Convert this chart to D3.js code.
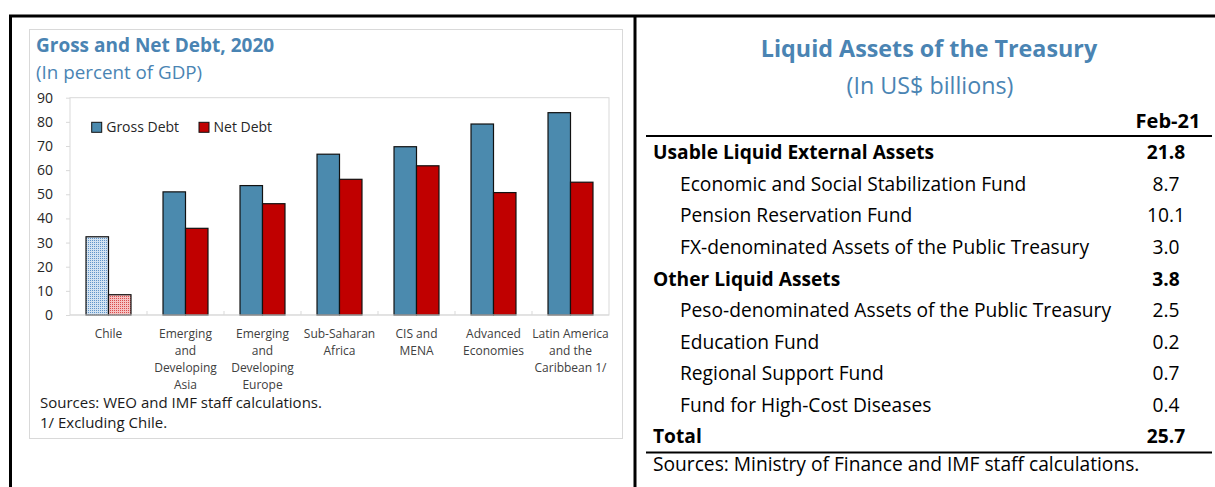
<!DOCTYPE html>
<html>
<head>
<meta charset="utf-8">
<script src="https://cdn.jsdelivr.net/npm/d3@7"></script>
<style>
  html, body { margin: 0; padding: 0; background: #fff; }
  svg { display: block; font-family: "Open Sans", "Noto Sans", sans-serif; }
</style>
</head>
<body>
<div id="chart"></div>
<script>
// left panel: gross vs net debt
const regions = ["Chile", "EDA", "EDE", "SSA", "CIS", "AE", "LAC"];
const regionLabels = [
  ["Chile"],
  ["Emerging", "and", "Developing", "Asia"],
  ["Emerging", "and", "Developing", "Europe"],
  ["Sub-Saharan", "Africa"],
  ["CIS and", "MENA"],
  ["Advanced", "Economies"],
  ["Latin America", "and the", "Caribbean 1/"]
];
const grossDebt = [32.4, 51.0, 53.6, 66.6, 69.7, 79.1, 83.8];
const netDebt = [8.4, 35.9, 46.1, 56.2, 61.8, 50.7, 55.0];
const seriesNames = ["Gross Debt", "Net Debt"];
const yTicks = [0, 10, 20, 30, 40, 50, 60, 70, 80, 90];

// right panel: liquid assets table
const assetLabels = [
  "Usable Liquid External Assets",
  "Economic and Social Stabilization Fund",
  "Pension Reservation Fund",
  "FX-denominated Assets of the Public Treasury",
  "Other Liquid Assets",
  "Peso-denominated Assets of the Public Treasury",
  "Education Fund",
  "Regional Support Fund",
  "Fund for High-Cost Diseases",
  "Total"
];
const assetValues = ["21.8", "8.7", "10.1", "3.0", "3.8", "2.5", "0.2", "0.7", "0.4", "25.7"];
const assetIsHeading = [true, false, false, false, true, false, false, false, false, true];

const W = 1215, H = 487;
const blue = "#4a84b3";
const svg = d3.select("#chart").append("svg").attr("width", W).attr("height", H);

const defs = svg.append("defs");
function dotPattern(id, bg, dot) {
  const p = defs.append("pattern").attr("id", id).attr("patternUnits", "userSpaceOnUse")
    .attr("width", 2).attr("height", 2);
  p.append("rect").attr("width", 2).attr("height", 2).attr("fill", bg);
  p.append("rect").attr("width", 1).attr("height", 1).attr("fill", dot);
}
dotPattern("chileGross", "#d3e3f2", "#5e93c8");
dotPattern("chileNet", "#f6c2c2", "#d94a4a");

// outer frame
const frame = svg.append("g").attr("stroke", "#000").attr("stroke-width", 3);
frame.append("line").attr("x1", 9).attr("x2", W).attr("y1", 16).attr("y2", 16);
frame.append("line").attr("x1", 10.5).attr("x2", 10.5).attr("y1", 16).attr("y2", H);
frame.append("line").attr("x1", 635).attr("x2", 635).attr("y1", 16).attr("y2", H);

// ---- left chart ----
const left = svg.append("g");
left.append("rect").attr("x", 29.5).attr("y", 29.5).attr("width", 593).attr("height", 409)
  .attr("fill", "none").attr("stroke", "#d9d9d9");

left.append("text").attr("x", 36).attr("y", 52).attr("fill", blue)
  .attr("font-size", 19).attr("font-weight", 700).text("Gross and Net Debt, 2020");
left.append("text").attr("x", 36).attr("y", 79).attr("fill", blue)
  .attr("font-size", 18.8).text("(In percent of GDP)");

const plot = { left: 70, right: 609, top: 97.7, bottom: 315 };
left.append("rect").attr("x", plot.left).attr("y", plot.top)
  .attr("width", plot.right - plot.left).attr("height", plot.bottom - plot.top)
  .attr("fill", "none").attr("stroke", "#d9d9d9");

const x0 = d3.scaleBand().domain(regions).range([plot.left, plot.right])
  .paddingInner(0.416).paddingOuter(0.208);
const x1 = d3.scaleBand().domain(seriesNames).range([0, x0.bandwidth()]);
const y = d3.scaleLinear().domain([0, 90]).range([plot.bottom, plot.top]);
const color = d3.scaleOrdinal().domain(seriesNames).range(["#4b8aae", "#c00000"]);

const yAxis = left.append("g").attr("transform", `translate(${plot.left},0)`)
  .call(d3.axisLeft(y).tickValues(yTicks).tickSize(4).tickPadding(13));
yAxis.select(".domain").remove();
yAxis.selectAll(".tick line").attr("stroke", "#d9d9d9");
yAxis.selectAll(".tick text").attr("font-size", 14).attr("fill", "#262626")
  .attr("font-family", "Open Sans, sans-serif");

const rows = regions.map((r, i) => ({ region: r, values: [grossDebt[i], netDebt[i]] }));
const groups = left.append("g").selectAll("g").data(rows).join("g")
  .attr("transform", (d) => `translate(${x0(d.region)},0)`);
groups.selectAll("rect").data((d) => seriesNames.map((s, j) => ({ region: d.region, series: s, value: d.values[j] })))
  .join("rect")
  .attr("x", (d) => x1(d.series))
  .attr("width", x1.bandwidth())
  .attr("y", (d) => y(d.value))
  .attr("height", (d) => y(0) - y(d.value))
  .attr("fill", (d) => d.region === "Chile" ? (d.series === "Gross Debt" ? "url(#chileGross)" : "url(#chileNet)") : color(d.series))
  .attr("stroke", "#111").attr("stroke-width", 1.2);

// x axis line with inside ticks between categories
left.append("line").attr("x1", plot.left).attr("x2", plot.right).attr("y1", plot.bottom).attr("y2", plot.bottom)
  .attr("stroke", "#d9d9d9");
left.append("g").selectAll("line").data(regions.slice(1)).join("line")
  .attr("x1", (d) => x0(d) - x0.step() * x0.paddingInner() / 2)
  .attr("x2", (d) => x0(d) - x0.step() * x0.paddingInner() / 2)
  .attr("y1", plot.bottom).attr("y2", plot.bottom - 4)
  .attr("stroke", "#d9d9d9");

const xAxis = left.append("g").attr("transform", `translate(0,${plot.bottom})`)
  .call(d3.axisBottom(x0).tickSize(0).tickFormat(""));
xAxis.select(".domain").remove();
xAxis.selectAll(".tick text").each(function (d, i) {
  const t = d3.select(this).attr("y", 23).attr("dy", 0).attr("font-size", 12)
    .attr("fill", "#404040").attr("font-family", "Open Sans, sans-serif");
  regionLabels[i].forEach((line, k) => {
    t.append("tspan").attr("x", 0).attr("dy", k === 0 ? 0 : 17).text(line);
  });
});

// legend
const legend = left.append("g").selectAll("g").data(seriesNames).join("g")
  .attr("transform", (d, i) => `translate(${[91.7, 199][i]},122.3)`);
legend.append("rect").attr("width", 10).attr("height", 10)
  .attr("fill", (d) => color(d)).attr("stroke", "#111").attr("stroke-width", 1);
legend.append("text").attr("x", 14.5).attr("y", 10).attr("font-size", 14).attr("fill", "#262626").text((d) => d);

left.append("text").attr("x", 40).attr("y", 408).attr("font-size", 15).attr("fill", "#1a1a1a")
  .text("Sources: WEO and IMF staff calculations.");
left.append("text").attr("x", 40).attr("y", 428).attr("font-size", 15).attr("fill", "#1a1a1a")
  .text("1/ Excluding Chile.");

// ---- right table ----
const right = svg.append("g");
right.append("text").attr("x", 929).attr("y", 57).attr("text-anchor", "middle").attr("fill", blue)
  .attr("font-size", 23.3).attr("font-weight", 700).text("Liquid Assets of the Treasury");
right.append("text").attr("x", 930).attr("y", 94).attr("text-anchor", "middle").attr("fill", blue)
  .attr("font-size", 23.3).text("(In US$ billions)");

const valueX = 1166;
right.append("text").attr("x", 1168).attr("y", 128).attr("text-anchor", "middle")
  .attr("font-size", 20).attr("font-weight", 700).text("Feb-21");
right.append("line").attr("x1", 646).attr("x2", 1212).attr("y1", 136).attr("y2", 136)
  .attr("stroke", "#000").attr("stroke-width", 2);

const rowY = d3.scalePoint().domain(d3.range(assetLabels.length)).range([159.3, 443.3]);
const tr = right.append("g").selectAll("g").data(assetLabels).join("g")
  .attr("transform", (d, i) => `translate(0,${rowY(i)})`)
  .attr("font-size", 19.2).attr("fill", "#000")
  .attr("font-weight", (d, i) => assetIsHeading[i] ? 700 : 400);
tr.append("text").attr("x", (d, i) => assetIsHeading[i] ? 653 : 680).text((d) => d);
tr.append("text").attr("x", valueX).attr("text-anchor", "middle").text((d, i) => assetValues[i]);

right.append("line").attr("x1", 646).attr("x2", 1212).attr("y1", 452.5).attr("y2", 452.5)
  .attr("stroke", "#000").attr("stroke-width", 2);
right.append("text").attr("x", 653).attr("y", 471).attr("font-size", 19.2)
  .text("Sources: Ministry of Finance and IMF staff calculations.");
</script>
</body>
</html>
